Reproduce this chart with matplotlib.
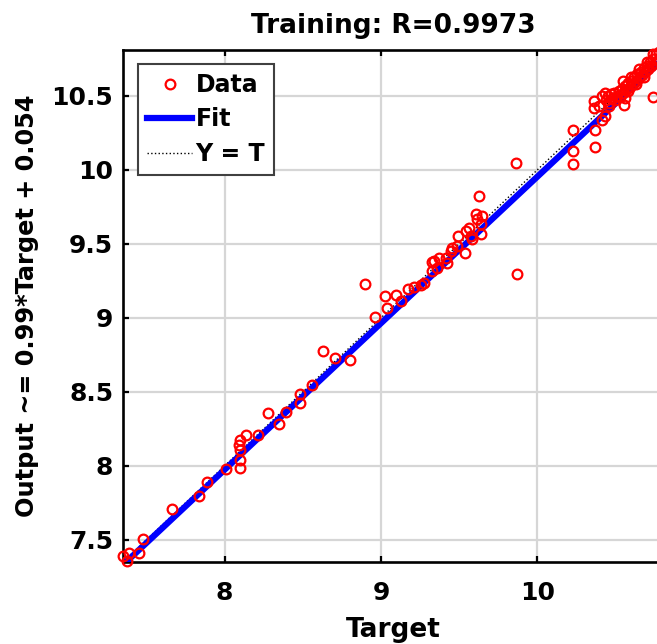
import matplotlib.pyplot as plt

# targets / network outputs (training set)
target = [7.352, 7.374, 7.390, 7.454, 7.479, 7.661, 7.835, 7.890, 8.009, 8.101,
          8.101, 8.101, 8.092, 8.101, 8.134, 8.213, 8.279, 8.347, 8.394, 8.479,
          8.485, 8.562, 8.632, 8.708, 8.804, 8.898, 8.959, 9.025, 9.038, 9.096,
          9.127, 9.170, 9.212, 9.255, 9.276, 9.329, 9.340, 9.329, 9.361, 9.372,
          9.414, 9.425, 9.446, 9.457, 9.488, 9.538, 9.495, 9.542, 9.563, 9.574,
          9.584, 9.606, 9.616, 9.627, 9.648, 9.638, 9.638, 9.871, 9.861, 10.226,
          10.226, 10.226, 10.367, 10.367, 10.360, 10.360, 10.392, 10.413, 10.435, 10.456,
          10.552, 10.562, 10.413, 10.435, 10.743,
          10.44, 10.45, 10.46, 10.47, 10.48, 10.49, 10.50, 10.51, 10.52, 10.53,
          10.54, 10.55, 10.56, 10.57, 10.58, 10.59, 10.60, 10.61, 10.62, 10.63,
          10.64, 10.65, 10.66, 10.67, 10.68, 10.69, 10.70, 10.71, 10.72, 10.73,
          10.74, 10.75, 10.76, 10.77, 10.78, 10.79, 10.80, 10.55, 10.60, 10.65,
          10.70, 10.74, 10.58, 10.63, 10.68]
output = [7.392, 7.359, 7.413, 7.413, 7.505, 7.705, 7.795, 7.889, 7.981, 7.988,
          8.042, 8.105, 8.138, 8.172, 8.210, 8.210, 8.354, 8.284, 8.367, 8.426,
          8.487, 8.549, 8.778, 8.731, 8.718, 9.228, 9.008, 9.147, 9.068, 9.154,
          9.111, 9.194, 9.210, 9.223, 9.239, 9.376, 9.385, 9.318, 9.336, 9.403,
          9.407, 9.373, 9.452, 9.475, 9.486, 9.441, 9.553, 9.587, 9.609, 9.553,
          9.531, 9.700, 9.666, 9.823, 9.688, 9.632, 9.565, 9.295, 10.047, 10.272,
          10.126, 10.037, 10.272, 10.153, 10.463, 10.418, 10.429, 10.340, 10.362, 10.429,
          10.441, 10.485, 10.497, 10.520, 10.490,
          10.47, 10.50, 10.45, 10.51, 10.48, 10.52, 10.47, 10.50, 10.53, 10.49,
          10.55, 10.52, 10.57, 10.54, 10.59, 10.56, 10.60, 10.58, 10.63, 10.60,
          10.65, 10.62, 10.66, 10.64, 10.69, 10.66, 10.70, 10.68, 10.73, 10.70,
          10.75, 10.72, 10.78, 10.74, 10.80, 10.77, 10.80, 10.60, 10.63, 10.68,
          10.73, 10.78, 10.53, 10.58, 10.63]

slope, offset = 0.99, 0.054
lims = [7.35, 10.81]
r_value = 0.9973

plt.rcParams['font.family'] = 'DejaVu Sans'
plt.rcParams['font.weight'] = 'bold'

fig = plt.figure(figsize=(6.57, 6.44), dpi=100)
ax = fig.add_axes([0.1872, 0.1273, 0.8234, 0.7950])

ax.plot(lims, lims, ':', color='black', linewidth=1.0, label='Y = T', zorder=2)
fit_y = [slope * v + offset for v in lims]
ax.plot(lims, fit_y, '-', color='#0000ff', linewidth=4.5, label='Fit', zorder=3)
ax.plot(target, output, 'o', markerfacecolor='none', markeredgecolor='#ff0000',
        markersize=7, markeredgewidth=1.6, linestyle='none', label='Data',
        clip_on=False, zorder=4)

ax.set_xlim(lims)
ax.set_ylim(lims)
ax.set_xticks([8, 9, 10])
ax.set_xticklabels(['8', '9', '10'])
ax.set_yticks([7.5, 8, 8.5, 9, 9.5, 10, 10.5])
ax.set_yticklabels(['7.5', '8', '8.5', '9', '9.5', '10', '10.5'])
ax.grid(True, color='#d6d6d6', linewidth=1.6)
ax.set_axisbelow(True)

for side in ['left', 'bottom', 'top', 'right']:
    ax.spines[side].set_linewidth(1.9)
ax.tick_params(axis='both', direction='in', length=4.5, width=1.6,
               top=True, right=True, labelsize=18)
ax.tick_params(axis='x', pad=14)
ax.tick_params(axis='y', pad=7)

ax.set_title(f'Training: R={r_value}', fontsize=19, fontweight='bold', pad=12)
ax.set_xlabel('Target', fontsize=19, fontweight='bold', labelpad=8)
ax.set_ylabel(f'Output ~= {slope}*Target + {offset}', fontsize=17.3,
              fontweight='bold', labelpad=9)

handles, labels = ax.get_legend_handles_labels()
order = [2, 1, 0]
leg = ax.legend([handles[i] for i in order], [labels[i] for i in order],
                loc='upper left', bbox_to_anchor=(0.028, 0.973), borderaxespad=0,
                fontsize=17, handlelength=1.9, handletextpad=0.15,
                labelspacing=0.45, borderpad=0.38, fancybox=False,
                framealpha=1, edgecolor='#404040')
leg.get_frame().set_linewidth(1.5)

fig.savefig('out.png', dpi=100)
